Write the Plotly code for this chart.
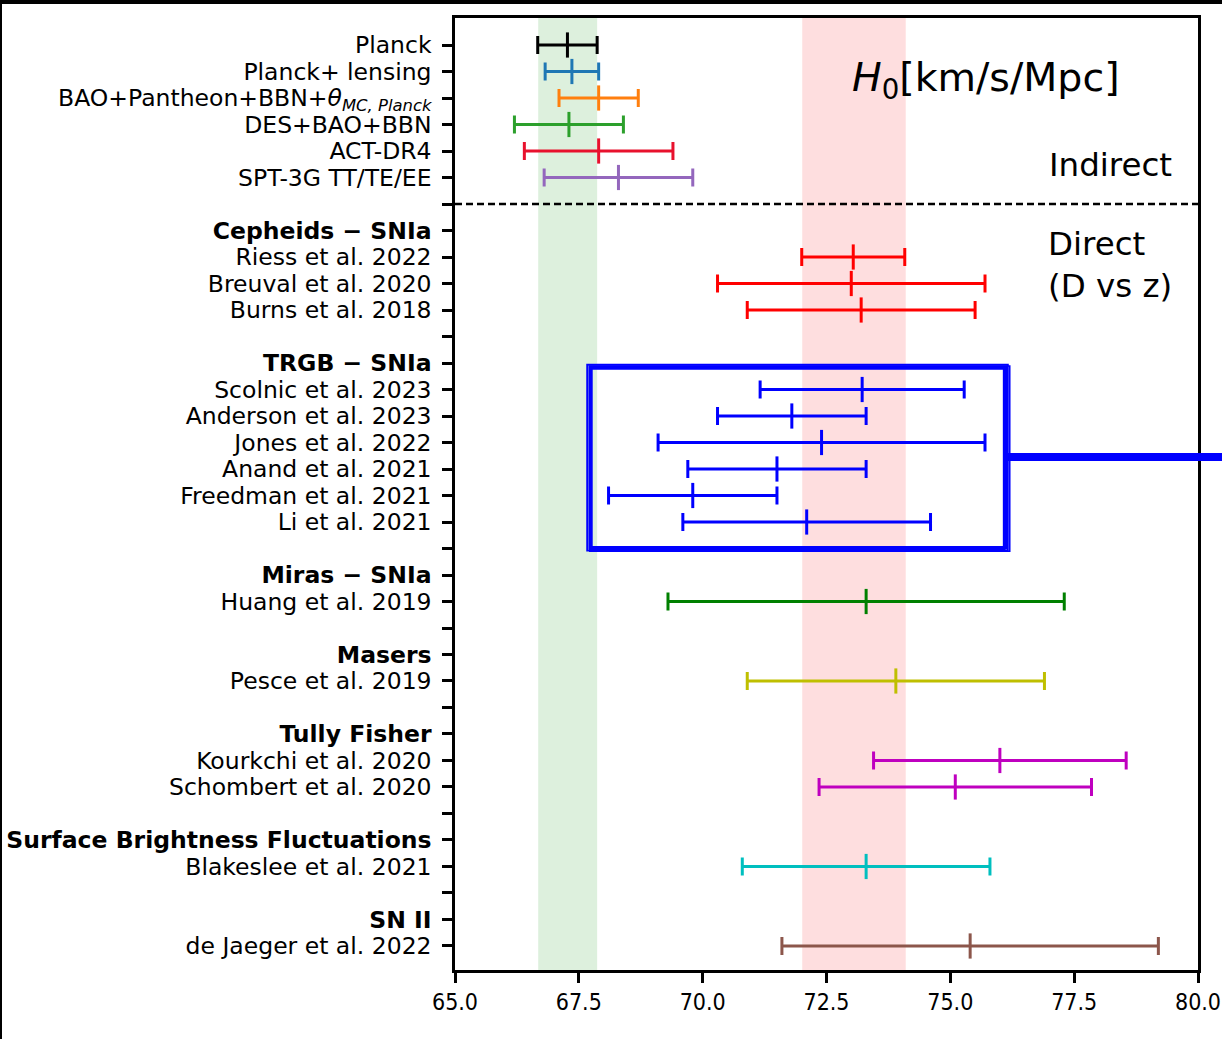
import plotly.graph_objects as go

# ---------------- data ----------------
labels = [
    "Planck", "Planck+ lensing",
    "BAO+Pantheon+BBN+<i>θ</i><sub><i>MC, Planck</i></sub>",
    "DES+BAO+BBN", "ACT-DR4", "SPT-3G TT/TE/EE", "",
    "<b>Cepheids − SNIa</b>", "Riess et al. 2022", "Breuval et al. 2020", "Burns et al. 2018", "",
    "<b>TRGB − SNIa</b>", "Scolnic et al. 2023", "Anderson et al. 2023", "Jones et al. 2022",
    "Anand et al. 2021", "Freedman et al. 2021", "Li et al. 2021", "",
    "<b>Miras − SNIa</b>", "Huang et al. 2019", "",
    "<b>Masers</b>", "Pesce et al. 2019", "",
    "<b>Tully Fisher</b>", "Kourkchi et al. 2020", "Schombert et al. 2020", "",
    "<b>Surface Brightness Fluctuations</b>", "Blakeslee et al. 2021", "",
    "<b>SN II</b>", "de Jaeger et al. 2022",
]

# measurements: (row index, H0, error, colour)
rows = [0, 1, 2, 3, 4, 5,
        8, 9, 10,
        13, 14, 15, 16, 17, 18,
        21, 24, 27, 28, 31, 34]
h0 = [67.27, 67.36, 67.9, 67.3, 67.9, 68.3,
      73.04, 73.0, 73.2,
      73.22, 71.8, 72.4, 71.5, 69.8, 72.1,
      73.3, 73.9, 76.0, 75.1, 73.3, 75.4]
err = [0.60, 0.54, 0.8, 1.1, 1.5, 1.5,
       1.04, 2.7, 2.3,
       2.06, 1.5, 3.3, 1.8, 1.7, 2.5,
       4.0, 3.0, 2.55, 2.75, 2.5, 3.8]
colors = ["#000000", "#1f77b4", "#ff7f0e", "#2ca02c", "#e8112d", "#9467bd",
          "#ff0000", "#ff0000", "#ff0000",
          "#0000ff", "#0000ff", "#0000ff", "#0000ff", "#0000ff", "#0000ff",
          "#008000", "#bfbf00", "#bf00bf", "#bf00bf", "#00bfbf", "#8c564b"]

planck_band = (66.68, 67.87)
shoes_band = (72.01, 74.10)
divider_row = 6
xticks = [65.0, 67.5, 70.0, 72.5, 75.0, 77.5, 80.0]

# highlight box around TRGB rows (annotation)
box_x = (67.72, 76.12)
box_rows = (12.15, 18.98)

# ---------------- figure ----------------
W, H = 1222, 1039
ml, mr, mt, mb = 455, 24, 18, 69
pw, ph = W - ml - mr, H - mt - mb

fig = go.Figure()

for r, v, e, c in zip(rows, h0, err, colors):
    fig.add_trace(go.Scatter(
        x=[v], y=[r], mode="markers",
        marker=dict(symbol="line-ns", size=18, color=c, line=dict(color=c, width=3)),
        error_x=dict(type="data", array=[e], visible=True, color=c, thickness=3, width=9),
        showlegend=False, hoverinfo="x+y",
    ))

label_rows = [i for i, t in enumerate(labels) if t]
blank_rows = [i for i, t in enumerate(labels) if not t]

shapes = []
shapes.append(dict(type="rect", xref="x", yref="paper", x0=planck_band[0], x1=planck_band[1],
                   y0=0, y1=1, fillcolor="rgba(44,160,44,0.16)", line=dict(width=0), layer="below"))
shapes.append(dict(type="rect", xref="x", yref="paper", x0=shoes_band[0], x1=shoes_band[1],
                   y0=0, y1=1, fillcolor="rgba(250,0,10,0.13)", line=dict(width=0), layer="below"))
shapes.append(dict(type="line", xref="paper", yref="y", x0=0, x1=1, y0=divider_row, y1=divider_row,
                   line=dict(color="black", width=2.5, dash="7px,4px")))

# hand-drawn blue box (several slightly offset strokes)
for dx0, dy0, dx1, dy1, w in [(0, 0, 0, 0, 2.5), (-0.05, -0.08, 0.04, 0.1, 2),
                               (0.04, 0.07, -0.04, -0.04, 2), (0.0, -0.04, 0.08, 0.12, 1.5),
                               (0.02, 0.02, -0.02, 0.05, 1.5)]:
    shapes.append(dict(type="rect", xref="x", yref="y",
                       x0=box_x[0] + dx0, x1=box_x[1] + dx1,
                       y0=box_rows[0] + dy0, y1=box_rows[1] + dy1,
                       line=dict(color="#0000ff", width=w)))
# connector line leaving the figure
yc = 1 - (457 - mt) / ph
shapes.append(dict(type="line", xref="paper", yref="paper",
                   x0=(1006 - ml) / pw, x1=(W + 5 - ml) / pw, y0=yc, y1=yc,
                   line=dict(color="#0000ff", width=8)))

# black frame edges of the screenshot
shapes.append(dict(type="rect", xref="paper", yref="paper",
                   x0=-ml / pw - 0.01, x1=(W - ml) / pw + 0.01,
                   y0=1 + (mt - 4) / ph, y1=1 + mt / ph + 0.01,
                   fillcolor="black", line=dict(width=0)))
shapes.append(dict(type="rect", xref="paper", yref="paper",
                   x0=-ml / pw - 0.01, x1=(2 - ml) / pw,
                   y0=-mb / ph - 0.01, y1=1 + mt / ph + 0.01,
                   fillcolor="black", line=dict(width=0)))

def px(xp):
    return (xp - ml) / pw

def py(yp):
    return 1 - (yp - mt) / ph

annotations = [
    dict(text="<i>H</i><sub>0</sub>[km/s/Mpc]", x=px(850), y=py(80), xref="paper", yref="paper",
         xanchor="left", yanchor="middle", showarrow=False, font=dict(size=39.5, color="black")),
    dict(text="Indirect", x=px(1174), y=py(165), xref="paper", yref="paper",
         xanchor="right", yanchor="middle", showarrow=False, font=dict(size=32.5, color="black")),
    dict(text="Direct<br>(D vs z)", x=px(1046), y=py(265), xref="paper", yref="paper",
         xanchor="left", yanchor="middle", align="left", showarrow=False,
         font=dict(size=32.5, color="black")),
]

fig.update_layout(
    template="none",
    width=W, height=H,
    margin=dict(l=ml, r=mr, t=mt, b=mb, pad=0),
    paper_bgcolor="white", plot_bgcolor="white",
    font=dict(family="DejaVu Sans", color="black"),
    shapes=shapes, annotations=annotations,
    xaxis=dict(range=[65, 80], tickvals=xticks, ticktext=[f"{t:.1f}" for t in xticks],
               automargin=False,
               showgrid=False, zeroline=False, showline=True, linecolor="black", linewidth=2.5,
               mirror=True, ticks="outside", ticklen=10, tickwidth=2.5, tickcolor="black",
               tickfont=dict(family="DejaVu Sans Condensed, DejaVu Sans", size=23)),
    yaxis=dict(range=[34.906, -1.019], tickvals=label_rows,
               ticktext=[labels[i] for i in label_rows],
               automargin=False,
               showgrid=False, zeroline=False, showline=True, linecolor="black", linewidth=2.5,
               mirror=True, ticks="outside", ticklen=10, tickwidth=2.5, tickcolor="black",
               tickfont=dict(family="DejaVu Sans", size=23.5), ticklabelstandoff=6,
               minor=dict(tickvals=blank_rows, ticks="outside", ticklen=10, tickwidth=2.5,
                          tickcolor="black", showgrid=False)),
)

fig.write_html("out.html")
